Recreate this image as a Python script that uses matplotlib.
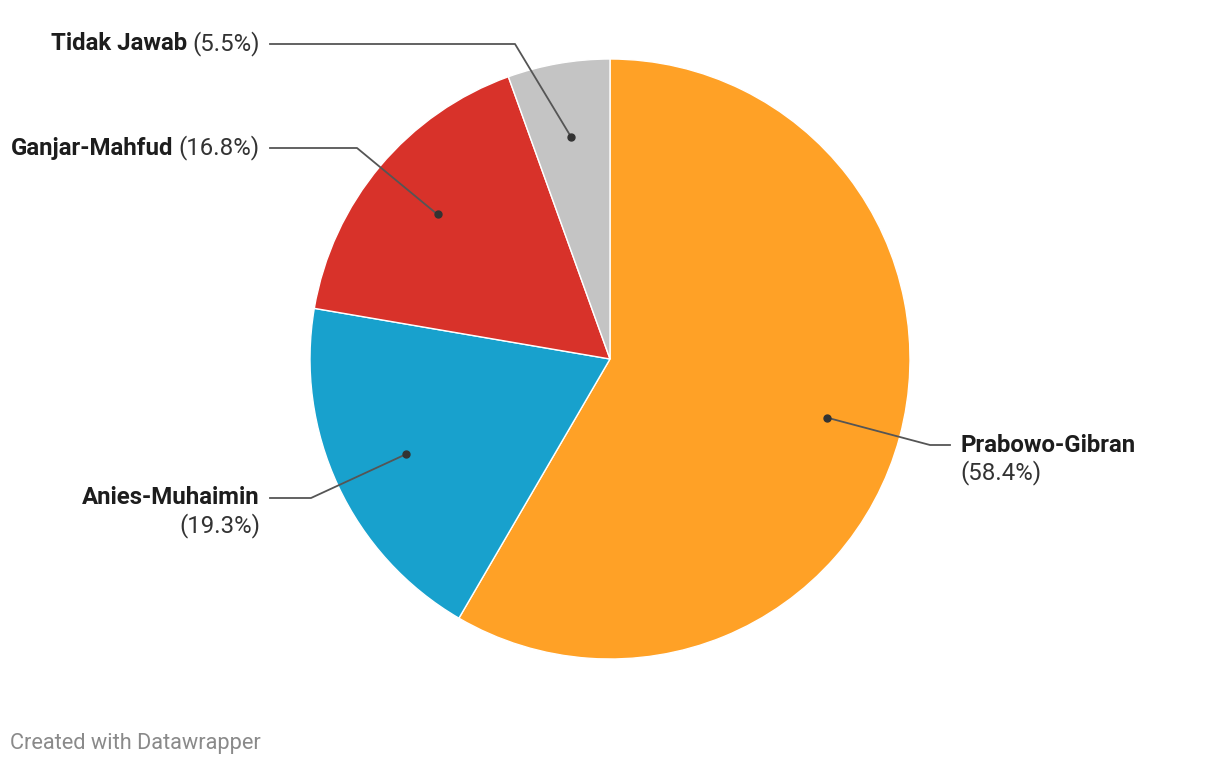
import matplotlib.pyplot as plt
import numpy as np

# ===== data =====
labels = ['Prabowo-Gibran', 'Anies-Muhaimin', 'Ganjar-Mahfud', 'Tidak Jawab']
values = [58.4, 19.3, 16.8, 5.5]
colors = ['#ffa126', '#18a1cd', '#d8322a', '#c4c4c4']

plt.rcParams['font.family'] = ['Roboto', 'DejaVu Sans']

W, H = 1220, 766
fig = plt.figure(figsize=(W / 100, H / 100), dpi=100)
ax = fig.add_axes([0, 0, 1, 1])

cx, cy, r = 610, H - 359, 300
wedges, _ = ax.pie(values, colors=colors, startangle=90, counterclock=False,
                   center=(cx, cy), radius=r, frame=True,
                   wedgeprops=dict(edgecolor='white', linewidth=1))
ax.set_xlim(0, W)
ax.set_ylim(0, H)
ax.set_aspect('equal')
ax.axis('off')

fs = 17.3
# label layout: elbow x, elbow y, side
elbows = [(930, H - 445, 'right', True),
          (311, H - 498, 'left', True),
          (357, H - 148, 'left', False),
          (515, H - 44, 'left', False)]

line_c = '#555555'
for w, val, lab, (ex, ey, side, two) in zip(wedges, values, labels, elbows):
    ang = np.deg2rad((w.theta1 + w.theta2) / 2)
    dx = cx + 0.75 * r * np.cos(ang)
    dy = cy + 0.75 * r * np.sin(ang)
    ax.plot(dx, dy, 'o', color='#333333', ms=5, zorder=5)
    if side == 'right':
        tx = ex + 20
        ax.plot([dx, ex, tx], [dy, ey, ey], color=line_c, lw=1.3, zorder=4)
        ax.text(tx + 10, ey, lab, ha='left', va='center', fontsize=fs,
                fontweight='bold', color='#1d1d1d')
        ax.text(tx + 10, ey - 28, f'({val}%)', ha='left', va='center',
                fontsize=fs, color='#333333')
    else:
        tx = 270
        ax.plot([dx, ex, tx], [dy, ey, ey], color=line_c, lw=1.3, zorder=4)
        if two:
            ax.text(tx - 10, ey, lab, ha='right', va='center', fontsize=fs,
                    fontweight='bold', color='#1d1d1d')
            ax.text(tx - 10, ey - 28, f'({val}%)', ha='right', va='center',
                    fontsize=fs, color='#333333')
        else:
            t = ax.text(tx - 10, ey, f'({val}%)', ha='right', va='center',
                        fontsize=fs, color='#333333')
            fig.canvas.draw()
            bb = t.get_window_extent()
            ax.text(bb.x0 - 5, ey, lab, ha='right', va='center', fontsize=fs,
                    fontweight='bold', color='#1d1d1d')

fig.text(10 / W, 1 - 743 / H, 'Created with Datawrapper', ha='left', va='center',
         fontsize=15.7, color='#8a8a8a')

fig.savefig('out.png', dpi=100)
